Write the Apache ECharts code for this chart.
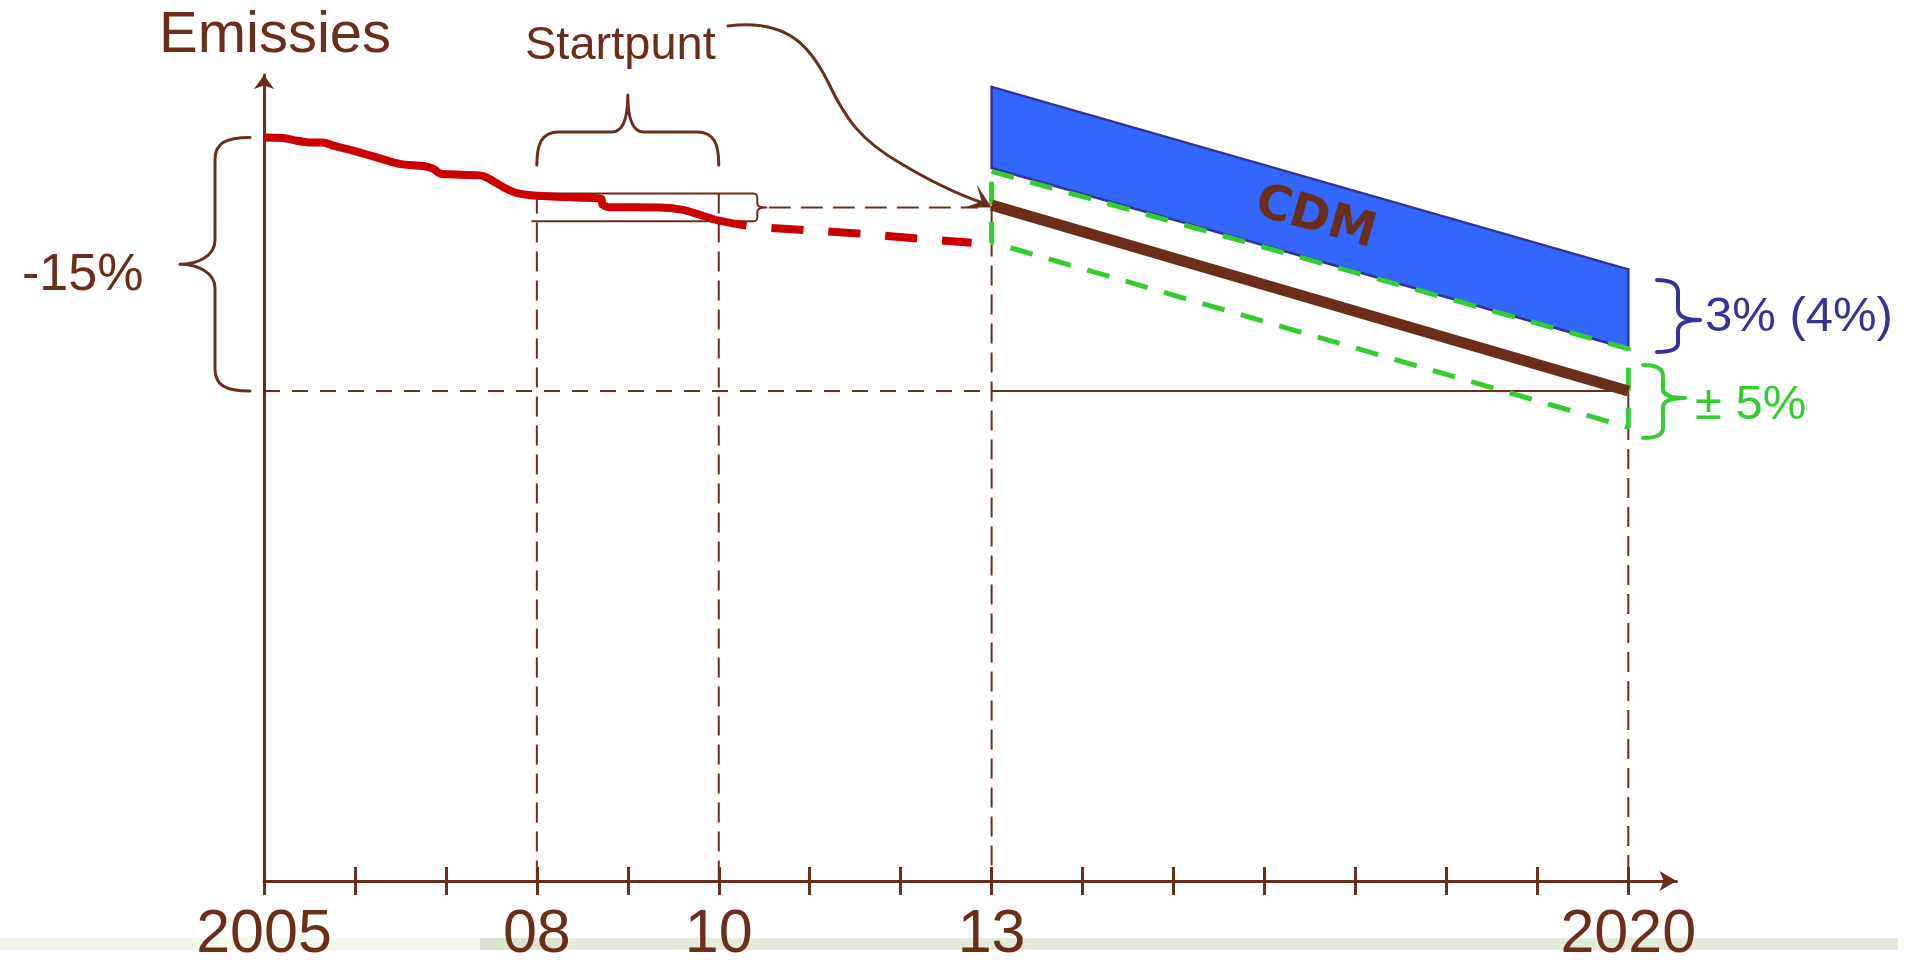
<!DOCTYPE html>
<html><head><meta charset="utf-8">
<script src="https://cdn.jsdelivr.net/npm/echarts@6/dist/echarts.min.js"></script>
<style>html,body{margin:0;padding:0;background:#fff}#c{width:1907px;height:966px}</style>
</head><body><div id="c"></div>
<script>
// ---- data ----
const tickYears = [2005,2006,2007,2008,2009,2010,2011,2012,2013,2014,2015,2016,2017,2018,2019,2020];
const labelYears = [2005,2008,2010,2013,2020];
const labelText = {2005:'2005',2008:'08',2010:'10',2013:'13',2020:'2020'};
const history = [[2005.00,100.00],[2005.21,99.97],[2005.36,99.81],[2005.49,99.71],[2005.64,99.71],[2005.71,99.62],[2005.76,99.52],[2005.95,99.27],[2006.17,98.93],[2006.39,98.58],[2006.53,98.41],[2006.75,98.31],[2006.86,98.15],[2006.94,97.86],[2007.05,97.82],[2007.37,97.76],[2007.45,97.63],[2007.67,96.95],[2007.78,96.71],[2008.00,96.56],[2008.51,96.44],[2008.71,96.36],[2008.72,96.05],[2008.79,95.88],[2009.35,95.86],[2009.61,95.72],[2009.79,95.43],[2009.96,95.13]];
const projection = [[2009.96,95.13],[2010.36,94.75],[2010.97,94.51],[2011.59,94.30],[2012.19,94.02],[2012.78,93.77]];
const cdmTop = [[2013,103.0],[2020,92.2]];
const cdmBottom = [[2013,98.2],[2020,87.5]];
const bandUpper = [[2013,98.0],[2020,87.5]];
const bandLower = [[2013,93.8],[2020,82.85]];
const target = [[2013,96.0],[2020,85.0]];
const baseLevel = 100, targetLevel = 85;
const boxTop = 96.68, boxBottom = 95.04, startValue = 95.86;
const boxStart = 2008, boxLowStart = 2007.94, boxEnd = 2010.38;
const yMin = 56, yMax = 103.7, xMin = 2005, xMax = 2020.53;

// ---- styles ----
const BROWN='#6B2E1B', RED='#CC0000', BLUE='#3366FF', NAVY='#333399', GREEN='#33CC33';
const FONT='"Liberation Sans", Arial, sans-serif';

const chart = echarts.init(document.getElementById('c'));
function ln(data, color, width, type, z, extra){
  return Object.assign({type:'line', data, symbol:'none', silent:true, animation:false, z,
    lineStyle:{color, width, type: type||'solid', cap:'butt'}}, extra||{});
}
function pth(d, color, w){ return {type:'path', shape:{pathData:d}, style:{fill:null, stroke:color, lineWidth:w, lineCap:'round', lineJoin:'round'}}; }
function txt(x,y,t,color,size,extra){ return Object.assign({type:'text', x, y,
  style:{text:t, fill:color, font:`${size}px ${FONT}`, align:'left', verticalAlign:'middle'}}, extra||{}); }

function annotations(params, api){
  const P = (x,y)=>api.coord([x,y]);
  const yBase = P(2005,baseLevel)[1], yTarg = P(2005,targetLevel)[1];
  const yMid = (yBase+yTarg)/2;
  const x08 = P(2008,yMin)[0], x10 = P(2010,yMin)[0];
  const xm = (x08+x10)/2;
  const bT = P(boxEnd,boxTop), bB = P(boxEnd,boxBottom), bM = P(boxEnd,startValue);
  const tip = P(2013,startValue);
  const cdmC = P(2016.56,95.2);
  const a0 = P(2013,cdmTop[0][1]), a1 = P(2020,cdmTop[1][1]);
  const ang = Math.atan2(a1[1]-a0[1], a1[0]-a0[0]);
  const sx = 215, ex = 250;
  const braceL = `M ${ex} ${yBase} C ${sx+10} ${yBase} ${sx} ${yBase+6} ${sx} ${yBase+22} L ${sx} ${yMid-24} C ${sx} ${yMid-8} ${sx-18} ${yMid} ${sx-35} ${yMid} C ${sx-18} ${yMid} ${sx} ${yMid+8} ${sx} ${yMid+24} L ${sx} ${yTarg-22} C ${sx} ${yTarg-6} ${sx+10} ${yTarg} ${ex} ${yTarg}`;
  const braceTop = `M ${x08} 165 C ${x08} 145 ${x08+4} 132 ${x08+22} 132 L ${xm-16} 132 C ${xm-5} 132 ${xm} 120 ${xm} 95 C ${xm} 120 ${xm+5} 132 ${xm+16} 132 L ${x10-22} 132 C ${x10-4} 132 ${x10} 145 ${x10} 165`;
  const vx = bT[0]+4;
  const braceBox = `M ${bT[0]} ${bT[1]} C ${vx-1} ${bT[1]} ${vx} ${bT[1]+1} ${vx} ${bT[1]+5} L ${vx} ${bM[1]-4} C ${vx} ${bM[1]-1} ${vx+3} ${bM[1]} ${vx+9} ${bM[1]} C ${vx+3} ${bM[1]} ${vx} ${bM[1]+1} ${vx} ${bM[1]+4} L ${vx} ${bB[1]-5} C ${vx} ${bB[1]-1} ${vx-1} ${bB[1]} ${bT[0]} ${bB[1]}`;
  const curve = `M 728 26 C 790 18 812 50 828 82 C 845 118 860 140 900 163 C 930 181 960 195 ${tip[0]-10} ${tip[1]-5}`;
  const braceBlue = `M 1657 280 C 1670 280 1678 283 1678 292 L 1678 309 C 1678 317 1688 320 1700 320 C 1688 320 1678 323 1678 331 L 1678 343 C 1678 350 1670 352 1657 352`;
  const braceGreen = `M 1643 365 C 1656 365 1663 368 1663 376 L 1663 389 C 1663 395 1672 398 1685 398 C 1672 398 1663 401 1663 407 L 1663 428 C 1663 435 1656 438 1643 438`;
  return {type:'group', children:[
    txt(159, 36, 'Emissies', BROWN, 58),
    txt(525, 46, 'Startpunt', BROWN, 47),
    txt(22, 276, '-15%', BROWN, 52),
    pth(braceL, BROWN, 3),
    pth(braceTop, BROWN, 3),
    pth(braceBox, BROWN, 2),
    pth(curve, BROWN, 3),
    {type:'polygon', shape:{points:[[tip[0],tip[1]],[tip[0]-15,tip[1]-23],[tip[0]-10,tip[1]-6],[tip[0]-27,tip[1]]]}, style:{fill:BROWN}},
    {type:'text', x:cdmC[0], y:cdmC[1], rotation:-ang,
      style:{text:'CDM', fill:BROWN, font:`bold 48px "DejaVu Sans", Verdana, sans-serif`, align:'center', verticalAlign:'middle'}},
    pth(braceBlue, NAVY, 4),
    txt(1705, 317, '3% (4%)', NAVY, 49),
    pth(braceGreen, GREEN, 4),
    txt(1695, 405, '± 5%', GREEN, 49)
  ]};
}

const strips = [[0,198,'#EEF6E4'],[198,372,'#F2F9EC'],[372,480,'#EFF7E6'],[480,560,'#D9E3D0'],[560,1898,'#E2EBD9']];
const thinDash = [20,9];
chart.setOption({
  animation:false,
  grid:{left:264, right:230.5, top:75, bottom:74.3, containLabel:false},
  graphic: strips.map(s=>({type:'rect', z:-10, silent:true, shape:{x:s[0], y:938, width:s[1]-s[0], height:12}, style:{fill:s[2]}})),
  xAxis:[{
    type:'value', min:xMin, max:xMax, position:'bottom',
    axisLine:{show:true, lineStyle:{color:BROWN, width:3}, symbol:['none','arrow'], symbolSize:[15,17]},
    axisTick:{show:true, inside:false, length:14, lineStyle:{color:BROWN, width:3}, customValues:tickYears},
    axisLabel:{show:true, margin:24, color:BROWN, fontFamily:FONT, fontSize:61, customValues:labelYears,
      formatter:v=>labelText[Math.round(v)]||''},
    splitLine:{show:false}
  },{
    type:'value', min:xMin, max:xMax, position:'bottom', gridIndex:0,
    axisLine:{show:false},
    axisTick:{show:true, inside:true, length:14, lineStyle:{color:BROWN, width:3}, customValues:tickYears},
    axisLabel:{show:false}, splitLine:{show:false}
  }],
  yAxis:{
    type:'value', min:yMin, max:yMax,
    axisLine:{show:true, lineStyle:{color:BROWN, width:3}, symbol:['none','arrow'], symbolSize:[15,14]},
    axisTick:{show:false}, axisLabel:{show:false}, splitLine:{show:false}
  },
  series:[
    {type:'custom', silent:true, z:1, clip:false, data:[[2013,100]],
      renderItem:(params, api)=>{
        const pts = cdmTop.concat(cdmBottom.slice().reverse()).map(p=>api.coord(p));
        return {type:'polygon', shape:{points:pts}, style:{fill:BLUE, stroke:NAVY, lineWidth:2.5}};
      }},
    ln([[xMin,targetLevel],[2013,targetLevel]], BROWN, 2, [16,12], 2),
    ln([[2013,targetLevel],[2020,targetLevel]], BROWN, 2, 'solid', 2),
    ln([[2008,boxTop],[2008,yMin]], BROWN, 2, thinDash, 2),
    ln([[2010,boxTop],[2010,yMin]], BROWN, 2, thinDash, 2),
    ln([[2013,startValue],[2013,yMin]], BROWN, 2, thinDash, 2),
    ln([[2020,targetLevel],[2020,yMin]], BROWN, 2, thinDash, 2),
    ln([[boxStart,boxTop],[boxEnd,boxTop]], BROWN, 2, 'solid', 2),
    ln([[boxLowStart,boxBottom],[boxEnd,boxBottom]], BROWN, 2, 'solid', 2),
    ln([[2010.55,startValue],[2012.85,startValue]], BROWN, 2, [22,10], 2),
    ln([bandUpper[0],bandUpper[1],bandLower[1],bandLower[0],bandUpper[0]], GREEN, 5, [23,17], 3),
    ln(target, BROWN, 11, 'solid', 4),
    ln(history, RED, 8, 'solid', 5, {smooth:0.25}),
    ln(projection, RED, 8, [32,25], 5, {smooth:0.3}),
    {type:'custom', silent:true, z:8, clip:false, data:[[2005,yMin]], renderItem:annotations}
  ]
});
</script>
</body></html>
